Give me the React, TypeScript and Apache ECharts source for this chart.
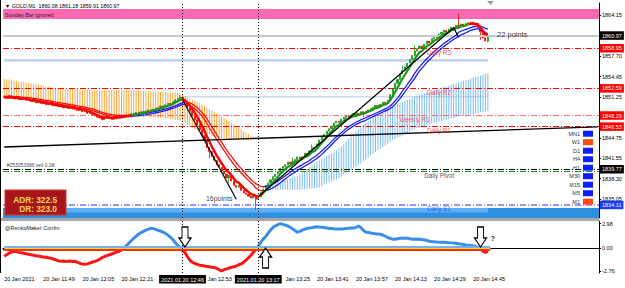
import React, { useEffect, useRef } from "react";
import * as echarts from "echarts";

// ---------- DATA ----------
const closes = [
  1851.3, 1851.0, 1851.4, 1851.1, 1850.9, 1851.2, 1850.8, 1850.9, 1851.0, 1850.7,
  1850.8, 1850.5, 1850.6, 1850.3, 1850.5, 1850.2, 1850.3, 1850.0, 1850.2, 1850.0,
  1849.8, 1850.0, 1849.7, 1849.8, 1849.5, 1849.7, 1849.4, 1849.6, 1849.3, 1849.4,
  1849.1, 1849.3, 1848.9, 1849.0, 1848.6, 1848.8, 1848.4, 1848.2, 1848.0, 1847.9,
  1847.6, 1847.9, 1848.1, 1847.8, 1847.7, 1848.0, 1847.9, 1848.2, 1848.0, 1848.3,
  1848.4, 1848.2, 1848.6, 1848.5, 1848.8, 1848.6, 1848.9, 1848.7, 1849.0, 1849.2,
  1849.0, 1849.3, 1849.5, 1849.4, 1849.8, 1849.6, 1850.0, 1850.2, 1850.1, 1850.5,
  1850.8, 1851.0, 1851.2, 1850.9, 1850.3, 1849.6, 1849.0, 1848.2, 1847.6, 1846.8,
  1846.0, 1845.1, 1844.3, 1843.2, 1842.6, 1841.8, 1841.2, 1840.5, 1840.1, 1839.5,
  1839.0, 1838.4, 1838.8, 1837.9, 1837.2, 1836.9, 1837.3, 1836.4, 1836.0, 1835.8,
  1835.5, 1835.2, 1835.6, 1835.0, 1835.4, 1836.1, 1836.6, 1837.2, 1837.6, 1838.1,
  1838.6, 1839.0, 1839.4, 1839.9, 1840.2, 1840.5, 1840.9, 1840.6, 1841.0, 1841.3,
  1841.7, 1841.4, 1841.8, 1842.3, 1842.0, 1842.7, 1843.2, 1843.0, 1843.8, 1844.4,
  1844.9, 1845.3, 1845.8, 1846.2, 1846.6, 1847.1, 1847.4, 1847.2, 1847.7, 1848.0,
  1848.3, 1848.0, 1848.4, 1848.6, 1848.3, 1848.7, 1848.9, 1848.6, 1849.0, 1849.2,
  1849.4, 1849.6, 1849.9, 1849.7, 1850.1, 1850.4, 1850.2, 1850.7, 1851.6, 1852.5,
  1853.4, 1854.0, 1854.9, 1855.4, 1856.0, 1856.6, 1857.2, 1857.8, 1858.5, 1858.9,
  1859.3, 1859.0, 1859.6, 1860.1, 1859.8, 1860.5, 1860.9, 1860.6, 1861.2, 1861.5,
  1861.8, 1861.5, 1862.0, 1862.3, 1862.1, 1862.6, 1862.4, 1862.8, 1862.5, 1862.9,
  1863.0, 1863.1, 1862.7, 1862.9, 1862.2, 1861.6, 1860.6, 1860.1, 1860.97,
];
const firstOpen = 1851.1;
const lastBar = { open: 1860.08, high: 1861.18, low: 1859.91, close: 1860.97 };
const wickHighs: Record<number, number> = { 186: 1864.5, 168: 1859.4, 126: 1843.7, 72: 1851.5, 163: 1856.2, 118: 1841.6 };
const wickLows: Record<number, number> = { 103: 1833.4, 84: 1841.5, 195: 1860.3, 92: 1837.6, 147: 1848.0 };

const orangeTop = [
  1854.1, 1854.0, 1854.0, 1853.9, 1853.8, 1853.8, 1853.7, 1853.7, 1853.6, 1853.5,
  1853.5, 1853.4, 1853.3, 1853.2, 1853.2, 1853.1, 1853.0, 1852.9, 1852.9, 1852.8,
  1852.7, 1852.7, 1852.6, 1852.6, 1852.6, 1852.5, 1852.5, 1852.5, 1852.5, 1852.4,
  1852.4, 1852.4, 1852.4, 1852.4, 1852.4, 1852.3, 1852.3, 1852.3, 1852.3, 1852.3,
  1852.3, 1852.3, 1852.3, 1852.3, 1852.3, 1852.3, 1852.3, 1852.3, 1852.3, 1852.3,
  1852.3, 1852.3, 1852.3, 1852.3, 1852.3, 1852.3, 1852.2, 1852.2, 1852.2, 1852.1,
  1852.1, 1852.1, 1852.1, 1852.0, 1852.0, 1852.0, 1852.0, 1851.9, 1851.9, 1851.9,
  1851.9, 1851.9, 1851.8, 1851.6, 1851.4, 1851.2, 1851.0, 1850.8, 1850.6, 1850.4,
  1850.3, 1850.0, 1849.8, 1849.5, 1849.3, 1849.1, 1848.8, 1848.6, 1848.4, 1848.1,
  1847.9, 1847.6, 1847.4, 1847.1, 1846.9, 1846.6, 1846.4, 1846.1, 1845.8, 1845.5,
  1845.3, 1845.1, 1844.9,
];
const orangeBottom = [
  1851.4, 1851.3, 1851.3, 1851.2, 1851.2, 1851.1, 1851.0, 1851.0, 1850.9, 1850.9,
  1850.8, 1850.8, 1850.7, 1850.7, 1850.6, 1850.5, 1850.5, 1850.4, 1850.4, 1850.3,
  1850.2, 1850.1, 1850.1, 1850.0, 1849.9, 1849.8, 1849.7, 1849.6, 1849.5, 1849.4,
  1849.2, 1849.1, 1849.0, 1848.9, 1848.8, 1848.6, 1848.5, 1848.4, 1848.2, 1848.1,
  1848.1, 1848.1, 1848.1, 1848.1, 1848.1, 1848.1, 1848.1, 1848.1, 1848.1, 1848.1,
  1848.1, 1848.1, 1848.1, 1848.1, 1848.1, 1848.1, 1848.1, 1848.1, 1848.1, 1848.1,
  1848.0, 1848.0, 1848.0, 1847.9, 1847.9, 1847.9, 1847.8, 1847.8, 1847.7, 1847.7,
  1847.6, 1847.6, 1847.5, 1847.3, 1847.1, 1846.8, 1846.6, 1846.4, 1846.1, 1845.9,
  1845.7, 1845.6, 1845.5, 1845.4, 1845.3, 1845.1, 1845.0, 1844.9, 1844.8, 1844.7,
  1844.7, 1844.6, 1844.6, 1844.6, 1844.5, 1844.5, 1844.5, 1844.5, 1844.4, 1844.4,
  1844.4, 1844.4, 1844.4,
];
const blueStart = 106;
const blueTop = [
  1837.1, 1837.2, 1837.3, 1837.4,
  1837.5, 1837.6, 1837.7, 1837.8, 1838.0, 1838.1, 1838.2, 1838.4, 1838.5, 1838.6,
  1838.7, 1838.9, 1839.2, 1839.5, 1839.8, 1840.1, 1840.4, 1840.7, 1841.0, 1841.2,
  1841.4, 1841.6, 1841.9, 1842.1, 1842.3, 1842.6, 1842.8, 1843.1, 1843.4, 1843.8,
  1844.2, 1844.6, 1845.0, 1845.4, 1845.8, 1846.2, 1846.5, 1846.8, 1847.1, 1847.4,
  1847.7, 1848.0, 1848.3, 1848.5, 1848.7, 1848.9, 1849.1, 1849.3, 1849.5, 1849.7,
  1849.9, 1850.1, 1850.3, 1850.4, 1850.6, 1850.8, 1850.9, 1851.1, 1851.3, 1851.4,
  1851.5, 1851.7, 1851.8, 1851.9, 1852.0, 1852.2, 1852.3, 1852.4, 1852.5, 1852.7,
  1852.8, 1852.9, 1853.0, 1853.2, 1853.3, 1853.4, 1853.6, 1853.7, 1853.8, 1853.9,
  1854.0, 1854.2, 1854.3, 1854.4, 1854.5, 1854.6, 1854.8, 1854.9, 1855.0,
];
const blueBottom = [
  1836.5, 1836.5, 1836.5, 1836.5,
  1836.5, 1836.5, 1836.5, 1836.5, 1836.5, 1836.5, 1836.5, 1836.5, 1836.5, 1836.5,
  1836.5, 1836.5, 1836.6, 1836.6, 1836.7, 1836.7, 1836.7, 1836.8, 1836.8, 1836.9,
  1837.1, 1837.3, 1837.5, 1837.7, 1837.8, 1838.0, 1838.2, 1838.4, 1838.6, 1838.9,
  1839.1, 1839.4, 1839.6, 1839.9, 1840.1, 1840.4, 1840.7, 1841.0, 1841.3, 1841.6,
  1841.9, 1842.2, 1842.5, 1842.8, 1843.0, 1843.3, 1843.5, 1843.8, 1844.1, 1844.4,
  1844.6, 1844.8, 1844.9, 1845.1, 1845.3, 1845.5, 1845.7, 1845.9, 1846.1, 1846.3,
  1846.4, 1846.5, 1846.6, 1846.8, 1846.9, 1847.0, 1847.1, 1847.2, 1847.3, 1847.4,
  1847.5, 1847.6, 1847.7, 1847.8, 1847.9, 1848.0, 1848.1, 1848.2, 1848.2, 1848.3,
  1848.4, 1848.5, 1848.5, 1848.6, 1848.7, 1848.8, 1848.8, 1848.9, 1849.0,
];

const oscillator = [
  -0.98, -0.8, -0.6, -0.45, -0.37, -0.4, -0.5, -0.55, -0.6, -0.68,
  -0.73, -0.8, -0.85, -0.9, -0.95, -1.0, -1.05, -1.1, -1.15, -1.2,
  -1.3, -1.4, -1.5, -1.59, -1.55, -1.6, -1.58, -1.55, -1.6, -1.59,
  -1.7, -1.85, -1.92, -1.95, -1.9, -1.8, -1.7, -1.6, -1.5, -1.35,
  -1.15, -1.0, -0.9, -0.8, -0.7, -0.6, -0.45, -0.37, -0.2, 0.05,
  0.3, 0.6, 0.9, 1.2, 1.45, 1.7, 1.9, 2.05, 2.2, 2.3,
  2.4, 2.38, 2.3, 2.15, 2.08, 1.95, 1.8, 1.6, 1.34, 1.05,
  0.7, 0.35, 0.1, -0.3, -0.5, -1.0, -1.45, -1.7, -1.85, -1.95,
  -2.05, -2.1, -2.15, -2.2, -2.25, -2.3, -2.32, -2.45, -2.6, -2.76,
  -2.6, -2.5, -2.4, -2.32, -2.25, -2.15, -2.0, -1.9, -1.7, -1.45,
  -1.15, -0.85, -0.5, -0.1, 0.25, 0.7, 1.1, 1.4, 1.8, 2.2,
  2.5, 2.7, 2.85, 2.98, 2.9, 2.8, 2.7, 2.55, 2.35, 2.15,
  1.95, 2.05, 2.2, 2.3, 2.4, 2.44, 2.5, 2.55, 2.6, 2.56,
  2.55, 2.5, 2.45, 2.4, 2.38, 2.35, 2.33, 2.32, 2.34, 2.36,
  2.4, 2.42, 2.44, 2.45, 2.5, 2.69, 2.5, 2.2, 1.95, 1.9,
  1.85, 1.8, 1.75, 1.71, 1.7, 1.6, 1.45, 1.3, 1.2, 1.1,
  1.1, 1.15, 1.2, 1.22, 1.22, 1.2, 1.15, 1.1, 1.12, 1.1,
  1.1, 1.05, 1.0, 0.95, 0.85, 0.82, 0.8, 0.76, 0.73, 0.73,
  0.72, 0.7, 0.68, 0.65, 0.62, 0.61, 0.55, 0.5, 0.45, 0.4,
  0.37, 0.33, 0.28, 0.24, 0.1, -0.12, -0.35, -0.49, -0.37,
];

const priceTicks = [1864.15, 1860.9, 1857.7, 1854.45, 1851.25, 1848.0, 1844.75, 1841.55, 1838.3, 1835.05];
// tick labels that stay visible (the others sit under the price boxes)
const priceTickLabels = [1864.15, 1857.7, 1854.45, 1851.25, 1844.75, 1841.55, 1838.3, 1835.05];
const oscTicks = [2.98, 0.0, -2.76];
const timeTicks = [
  "20 Jan 2021", "20 Jan 11:49", "20 Jan 12:05", "20 Jan 12:21", "20 Jan 12:37",
  "20 Jan 12:53", "20 Jan 13:09", "20 Jan 13:25", "20 Jan 13:41", "20 Jan 13:57",
  "20 Jan 14:13", "20 Jan 14:29", "20 Jan 14:45",
];
const hiddenTimeTicks = [4, 6];   // fully under the crosshair time boxes
const clippedTimeTicks = [5, 7];  // "20 " part under the crosshair time boxes
const levels = [1860.97, 1858.95, 1852.59, 1848.29, 1846.53, 1839.77, 1834.11];
const pivotLevel = 1839.45;
const pivotNames = ["Daily R3", "Daily R2", "Weekly R1", "Daily R1", "Daily Pivot", "Daily S1"];
const pivotValues = [1858.95, 1852.59, 1848.29, 1846.53, 1839.45, 1834.11];
const pivotBars = [178, 178, 168, 178, 178, 178];
const trendLine = [[0, 1843.3], [243, 1846.5]];
const zigDown = [[73, 1850.8], [95, 1835.0]];
const zigUp = [[104, 1835.4], [184, 1862.2], [186, 1860.7]];
const markedBars = [73, 104];
const markedTimes = ["2021.01.20 12:46", "2021.01.20 13:17"];
const signalArrows = [
  { bar: 74, value: 1.36, dir: "down" },
  { bar: 107, value: -1.19, dir: "up" },
  { bar: 195, value: 1.36, dir: "down" },
];
const adrValue = "322.5";
const drValue = "323.0";
const tfLabels = ["MN1", "W1", "D1", "H4", "H1", "M30", "M15", "M5", "M1"];
const tfUp = [true, false, true, true, true, true, true, true, false];
const orderText = "#253053986 sell 0.08";
const orderLevel = 1839.77;

// ---------- HELPERS ----------
const N_CATS = 244;
const FONT = "Liberation Sans, Arial, sans-serif";

const cats: string[] = [];
for (let i = 0; i < N_CATS; i++) {
  const m = 11 * 60 + 33 + i;
  cats.push(`${Math.floor(m / 60)}:${String(m % 60).padStart(2, "0")}`);
}

function ema(src: number[], n: number) {
  const k = 2 / (n + 1);
  const out: number[] = [];
  src.forEach((v, i) => out.push(i === 0 ? v : v * k + out[i - 1] * (1 - k)));
  return out;
}
const seg = (arr: number[], ranges: number[][]) =>
  arr.map((v, i) => (ranges.some(([a, b]) => i >= a && i <= b) ? v : null));

const opens = closes.map((c, i) => (i === 0 ? firstOpen : closes[i - 1]));
opens[closes.length - 1] = lastBar.open;
const highs = closes.map((c, i) => wickHighs[i] ?? Math.max(opens[i], c));
const lows = closes.map((c, i) => wickLows[i] ?? Math.min(opens[i], c));
highs[closes.length - 1] = lastBar.high;
lows[closes.length - 1] = lastBar.low;
const candles = closes.map((c, i) => [opens[i], c, lows[i], highs[i]]);

const fast = ema(closes, 5);
const chHigh = ema(highs, 14);
const chLow = ema(lows, 14);
const fastRed = [[0, 52], [73, 106], [190, 198]];
const fastGreen = [[52, 73], [106, 190]];
const chRed = [[0, 52], [74, 106]];
const chBlue = [[52, 74], [106, 198]];

const orangeData = orangeTop.map((t, i) => [i, orangeBottom[i], t]);
const blueData = blueTop.map((t, j) => [blueStart + j, blueBottom[j], t]);

const DASHDOT = [6, 2, 1, 2];
const levelStyles = [
  { line: "#c8c8c8", type: "solid", width: 2, bg: "#000000" },
  { line: "#ff0000", type: DASHDOT, width: 1, bg: "#ff0000" },
  { line: "#ff0000", type: DASHDOT, width: 1, bg: "#ff0000" },
  { line: "#ff6a6a", type: DASHDOT, width: 1, bg: "#ff0000" },
  { line: "#ff0000", type: DASHDOT, width: 1, bg: "#ff0000" },
  { line: "#000000", type: DASHDOT, width: 1, bg: "#000000" },
  { line: "#7373ff", type: DASHDOT, width: 1.5, bg: "#1a3cff" },
];
const pivotColors = ["#ff2020", "#ff2020", "#ff3030", "#ff2020", "#1a1a1a", "#2340ff"];

const ARROW_DOWN = "path://M3,0 L9,0 L9,11 L12,11 L6,20 L0,11 L3,11 Z";
const ARROW_UP = "path://M6,0 L12,9 L9,9 L9,20 L3,20 L3,9 L0,9 Z";

const cloudSeries = (data: number[][], color: string) => ({
  type: "custom", data, z: 2, silent: true, clip: true,
  encode: { x: 0, y: [1, 2] },
  renderItem: (_p: any, api: any) => {
    const a = api.coord([api.value(0), api.value(1)]);
    const b = api.coord([api.value(0), api.value(2)]);
    return {
      type: "rect",
      shape: { x: a[0] - 0.5, y: b[1], width: 1, height: a[1] - b[1] },
      style: { fill: color },
    };
  },
});

function buildOption() {
  const smallLabel = { fontSize: 5.5, color: "#000", fontFamily: FONT };
  const series: any[] = [];
  // bands (bottom layer)
  series.push({
    type: "line", data: [], z: 1, silent: true,
    markArea: {
      silent: true,
      data: [
        [{ yAxis: 1865.18, itemStyle: { color: "#ff69b4", opacity: 1 } }, { yAxis: 1863.6 }],
        [{ coord: [0, 1857.25], itemStyle: { color: "#c7d2f0", opacity: 1 } }, { coord: [198, 1856.8] }],
        [{ coord: [73, 1851.4], itemStyle: { color: "#d0d9f2", opacity: 1 } }, { coord: [198, 1851.15] }],
        [{ yAxis: 1833.62, itemStyle: { color: "#2f8fe3", opacity: 1 } }, { yAxis: 1832.04 }],
        [{ coord: [0, 1833.62], itemStyle: { color: "#5fb0f2", opacity: 1 } }, { coord: [198, 1832.9] }],
      ],
    },
  });
  // clouds
  series.push(cloudSeries(orangeData, "#ffa53a"));
  series.push(cloudSeries(blueData, "#7cbcf2"));
  // level lines
  series.push({
    type: "line", data: [], z: 3, silent: true,
    markLine: {
      silent: true, symbol: ["none", "none"],
      data: [
        ...levels.map((v, i) => ({
          yAxis: v,
          lineStyle: { color: levelStyles[i].line, type: levelStyles[i].type, width: levelStyles[i].width },
          label: {
            show: true, position: "end", formatter: v.toFixed(2), distance: 1,
            backgroundColor: levelStyles[i].bg, color: "#fff", fontSize: 5.5, fontFamily: FONT,
            padding: [1.5, 2, 1, 2],
          },
        })),
        { yAxis: pivotLevel, lineStyle: { color: "#1a9a1a", type: DASHDOT, width: 1 }, label: { show: false } },
        ...markedBars.map((b) => ({
          xAxis: cats[b], lineStyle: { color: "#000", type: [1, 2], width: 1 }, label: { show: false },
        })),
      ],
    },
  });
  // price candles
  series.push({
    type: "candlestick", data: candles, barWidth: 1.6, z: 4,
    itemStyle: { color: "#169c16", color0: "#ff0000", borderColor: "#169c16", borderColor0: "#ff0000", borderWidth: 0.8 },
  });
  // channel lines
  const lineBase = { type: "line", showSymbol: false, connectNulls: false, z: 5, silent: true };
  series.push({ ...lineBase, data: seg(chHigh, chRed), lineStyle: { color: "#ff0000", width: 1.2 } });
  series.push({ ...lineBase, data: seg(chLow, chRed), lineStyle: { color: "#ff0000", width: 1.2 } });
  series.push({ ...lineBase, data: seg(chHigh, chBlue), lineStyle: { color: "#1010ff", width: 1.2 } });
  series.push({ ...lineBase, data: seg(chLow, chBlue), lineStyle: { color: "#1010ff", width: 1.2 } });
  // fast line
  series.push({ ...lineBase, data: seg(fast, fastRed), lineStyle: { color: "#ff0000", width: 2.4 } });
  series.push({ ...lineBase, data: seg(fast, fastGreen), lineStyle: { color: "#1a961a", width: 2.2 } });
  // black lines
  series.push({ ...lineBase, z: 6, data: trendLine, lineStyle: { color: "#000", width: 1.3 } });
  series.push({ ...lineBase, z: 6, data: zigDown, lineStyle: { color: "#000", width: 1.2 } });
  series.push({ ...lineBase, z: 6, data: zigUp, lineStyle: { color: "#000", width: 1.2 } });
  // text annotations on the price pane
  series.push({
    type: "scatter", symbolSize: 0, z: 7, silent: true,
    label: { show: true, fontFamily: FONT },
    data: [
      ...pivotNames.map((name, i) => ({
        value: [pivotBars[i], pivotValues[i]],
        label: { formatter: name, position: "bottom", distance: 1, fontSize: 6.3, color: pivotColors[i] },
      })),
      {
        value: [1, orderLevel],
        label: { formatter: orderText, position: "top", align: "left", distance: 1.5, fontSize: 5, color: "#000" },
      },
      { value: [88, 1835.2], label: { formatter: "16points", position: "inside", fontSize: 7, color: "#000" } },
      { value: [208, 1861.06], label: { formatter: "22 points", position: "inside", fontSize: 7.5, color: "#000" } },
    ],
  });

  // ---- indicator pane ----
  const ind = { xAxisIndex: 1, yAxisIndex: 1 };
  series.push({
    ...ind, type: "line", data: [], z: 1, silent: true,
    markLine: {
      silent: true, symbol: ["none", "none"],
      data: [
        [{ coord: [0, 0.17], lineStyle: { color: "#6ab4f5", width: 1.8, type: "solid" } }, { coord: [199, 0.17] }],
        [{ coord: [0, -0.03], lineStyle: { color: "#f2e200", width: 1.8, type: "solid" } }, { coord: [199, -0.03] }],
        [{ coord: [0, -0.22], lineStyle: { color: "#ff2a2a", width: 1.8, type: "solid" } }, { coord: [199, -0.22] }],
        ...markedBars.map((b, i) => ({
          xAxis: cats[b],
          lineStyle: { color: "#000", type: [1, 2], width: 1 },
          label: {
            show: true, position: "start", formatter: markedTimes[i], distance: 2,
            backgroundColor: "#000", color: "#fff", fontSize: 5.5, fontFamily: FONT, padding: [1.5, 2, 1, 2],
          },
        })),
      ],
    },
  });
  series.push({
    ...ind, id: "osc", type: "line", data: oscillator, showSymbol: false, z: 3, silent: true,
    lineStyle: { width: 3 },
    markPoint: {
      silent: true,
      label: { show: false },
      data: signalArrows.map((a) => ({
        coord: [a.bar, a.value],
        symbol: a.dir === "down" ? ARROW_DOWN : ARROW_UP,
        symbolSize: [12, 20],
        symbolKeepAspect: false,
        itemStyle: { color: "#ffffff", borderColor: "#000", borderWidth: 1.2 },
      })),
    },
  });
  series.push({
    ...ind, type: "scatter", symbolSize: 0, z: 7, silent: true,
    data: [{ value: [200, 1.24], label: { show: true, formatter: "?", position: "inside", fontSize: 8, fontWeight: "bold", color: "#000", fontFamily: FONT } }],
  });

  const oscIndex = series.findIndex((s) => s.id === "osc");
  const tickShown = (i: number) => i % 16 === 0 && i / 16 < timeTicks.length;
  const labelShown = (i: number) => tickShown(i) && !hiddenTimeTicks.includes(i / 16);

  return {
    animation: false,
    backgroundColor: "#ffffff",
    textStyle: { fontFamily: FONT },
    grid: [
      { left: 3, right: 26, top: 3, height: 215 },
      { left: 3, right: 26, top: 221, height: 52 },
    ],
    xAxis: [
      { type: "category", gridIndex: 0, data: cats, show: false },
      {
        type: "category", gridIndex: 1, data: cats,
        axisLine: { show: true, lineStyle: { color: "#000", width: 1 } },
        axisTick: { show: true, length: 2, interval: tickShown, lineStyle: { color: "#000" } },
        axisLabel: {
          ...smallLabel, align: "left", margin: 3,
          interval: labelShown,
          formatter: (_v: string, i: number) => {
            const k = i / 16;
            const t = timeTicks[k] ?? "";
            return clippedTimeTicks.includes(k) ? `{c|${t.replace(/^20 /, "")}}` : t;
          },
          rich: { c: { fontSize: 5.5, color: "#000", fontFamily: FONT, padding: [0, 0, 0, 8] } },
        },
        splitLine: { show: false },
      },
    ],
    yAxis: [
      {
        type: "value", gridIndex: 0, position: "right", min: 1832.04, max: 1866.13, scale: true,
        splitLine: { show: false },
        axisLine: { show: true, lineStyle: { color: "#000", width: 1 } },
        axisTick: { show: true, length: 2, customValues: priceTicks, lineStyle: { color: "#000" } },
        axisLabel: { ...smallLabel, margin: 3, customValues: priceTickLabels, formatter: (v: number) => v.toFixed(2) },
      },
      {
        type: "value", gridIndex: 1, position: "right", min: -3.0, max: 3.3,
        splitLine: { show: false },
        axisLine: { show: true, lineStyle: { color: "#000", width: 1 } },
        axisTick: { show: true, length: 2, customValues: oscTicks, lineStyle: { color: "#000" } },
        axisLabel: { ...smallLabel, margin: 3, customValues: oscTicks, formatter: (v: number) => v.toFixed(2) },
      },
    ],
    visualMap: [
      {
        show: false, type: "piecewise", seriesIndex: oscIndex, dimension: 1,
        pieces: [
          { gt: -10, lte: 0, color: "#ff1414" },
          { gt: 0, lte: 10, color: "#3a8ee8" },
        ],
      },
    ],
    graphic: [
      { type: "rect", shape: { x: 0, y: 218, width: 599, height: 3 }, style: { fill: "#a6a6a6" }, z: 100 },
      { type: "line", shape: { x1: 0.5, y1: 0, x2: 0.5, y2: 273 }, style: { stroke: "#000", lineWidth: 1 }, z: 100 },
      { type: "polygon", shape: { points: [[487, 1], [494, 1], [490.5, 5]] }, style: { fill: "#9a9a9a" }, z: 100 },
      {
        type: "text", x: 5, y: 6, z: 100,
        style: {
          text: `▼ GOLD,M1  ${lastBar.open.toFixed(2)} ${lastBar.high.toFixed(2)} ${lastBar.low.toFixed(2)} ${lastBar.close.toFixed(2)}`,
          fontSize: 5.3, fontFamily: FONT, fill: "#000", verticalAlign: "middle",
        },
      },
      { type: "text", x: 5, y: 14.5, z: 100, style: { text: "Sunday Bar ignored", fontSize: 5.5, fontFamily: FONT, fill: "#222", verticalAlign: "middle" } },
      { type: "text", x: 5, y: 228, z: 100, style: { text: "@RenkoMaker Confm", fontSize: 5.5, fontFamily: FONT, fill: "#222", verticalAlign: "middle" } },
      { type: "rect", z: 100, shape: { x: 5, y: 190, width: 61, height: 25 }, style: { fill: "#a8161b", stroke: "#d2392f", lineWidth: 1 } },
      { type: "text", z: 101, x: 57, y: 200, style: { text: `ADR: ${adrValue}`, fontSize: 8.3, fontWeight: "bold", fontFamily: FONT, fill: "#ffd54a", align: "right", verticalAlign: "middle" } },
      { type: "text", z: 101, x: 57, y: 209, style: { text: `DR: ${drValue}`, fontSize: 8.3, fontWeight: "bold", fontFamily: FONT, fill: "#ffd54a", align: "right", verticalAlign: "middle" } },
      ...tfLabels.flatMap((lab, i) => [
        { type: "text", x: 580, y: 133.7 + i * 8.5, z: 100, style: { text: lab, fontSize: 5.5, fontFamily: FONT, fill: "#333", align: "right", verticalAlign: "middle" } },
        { type: "rect", z: 100, shape: { x: 583, y: 130.7 + i * 8.5, width: 10, height: 6 }, style: { fill: tfUp[i] ? "#0a1eff" : "#ff4a12" } },
      ]),
    ],
    series,
  };
}

export default function App() {
  const ref = useRef<HTMLDivElement>(null);
  useEffect(() => {
    if (!ref.current) return;
    const chart = echarts.init(ref.current, null, { renderer: "svg" });
    chart.setOption(buildOption() as any);
    return () => chart.dispose();
  }, []);
  return <div ref={ref} style={{ width: 625, height: 288, position: "absolute", left: 0, top: 0, background: "#fff" }} />;
}
